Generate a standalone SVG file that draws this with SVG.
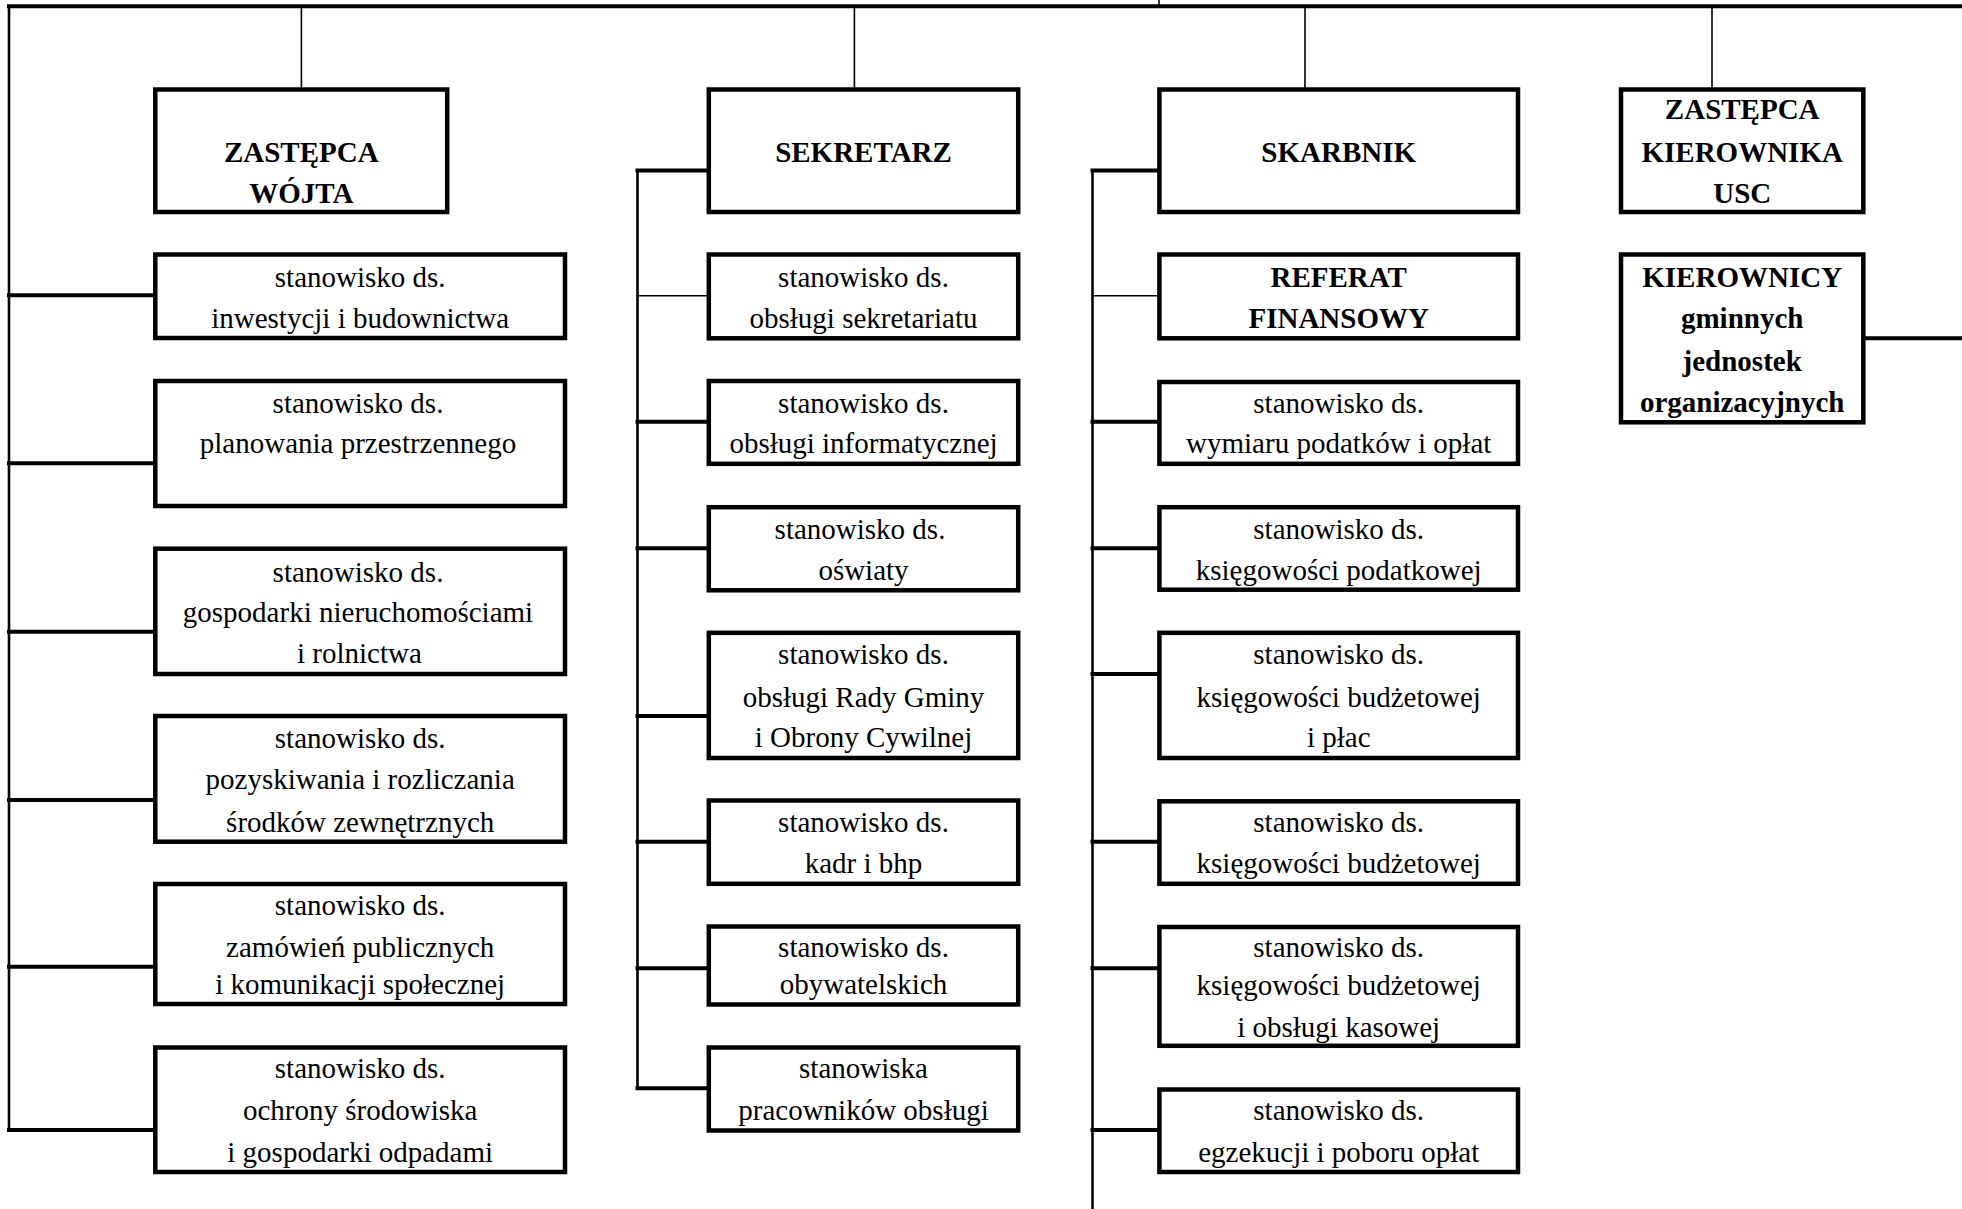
<svg xmlns="http://www.w3.org/2000/svg" width="1962" height="1209" viewBox="0 0 1962 1209">
<style>
.bg{fill:#fff}
.box{fill:#fff;stroke:#000;stroke-width:4.5}
.t{font-family:"Liberation Serif","Times New Roman",serif;font-size:29px;text-anchor:middle;fill:#000}
.b{font-weight:bold}
.c{stroke:#000;fill:none;stroke-linecap:square}
.thick{stroke-width:4}
.thin{stroke-width:1.6}
.trunk{stroke-width:2.6}
</style>
<rect class="bg" x="0" y="0" width="1962" height="1209"/>
<g id="connectors">
  <line class="c thick" x1="9" y1="6.3" x2="1962" y2="6.3"/>
  <line class="c thin" x1="1159" y1="0" x2="1159" y2="6"/>
  <line class="c thin" x1="301.4" y1="6" x2="301.4" y2="88"/>
  <line class="c thin" x1="854.4" y1="6" x2="854.4" y2="88"/>
  <line class="c thin" x1="1305" y1="6" x2="1305" y2="88"/>
  <line class="c thin" x1="1712" y1="6" x2="1712" y2="88"/>
  <line class="c trunk" x1="9" y1="6" x2="9" y2="1130"/>
  <line class="c thick" x1="9" y1="295.3" x2="154" y2="295.3"/>
  <line class="c thick" x1="9" y1="463.3" x2="154" y2="463.3"/>
  <line class="c thick" x1="9" y1="631.7" x2="154" y2="631.7"/>
  <line class="c thick" x1="9" y1="800" x2="154" y2="800"/>
  <line class="c thick" x1="9" y1="966.7" x2="154" y2="966.7"/>
  <line class="c thick" x1="9" y1="1130" x2="154" y2="1130"/>
  <line class="c trunk" x1="637.5" y1="170.5" x2="637.5" y2="1088.3"/>
  <line class="c thick" x1="637.5" y1="170.5" x2="707" y2="170.5"/>
  <line class="c thin" x1="637.5" y1="295.7" x2="707" y2="295.7"/>
  <line class="c thick" x1="637.5" y1="421.7" x2="707" y2="421.7"/>
  <line class="c thick" x1="637.5" y1="548.3" x2="707" y2="548.3"/>
  <line class="c thick" x1="637.5" y1="716" x2="707" y2="716"/>
  <line class="c thick" x1="637.5" y1="841.7" x2="707" y2="841.7"/>
  <line class="c thick" x1="637.5" y1="968.3" x2="707" y2="968.3"/>
  <line class="c thick" x1="637.5" y1="1088.3" x2="707" y2="1088.3"/>
  <line class="c trunk" x1="1092.5" y1="170.5" x2="1092.5" y2="1212"/>
  <line class="c thick" x1="1092.5" y1="170.5" x2="1157.5" y2="170.5"/>
  <line class="c thin" x1="1092.5" y1="295.7" x2="1157.5" y2="295.7"/>
  <line class="c thick" x1="1092.5" y1="421.7" x2="1157.5" y2="421.7"/>
  <line class="c thick" x1="1092.5" y1="548.3" x2="1157.5" y2="548.3"/>
  <line class="c thick" x1="1092.5" y1="674" x2="1157.5" y2="674"/>
  <line class="c thick" x1="1092.5" y1="841.7" x2="1157.5" y2="841.7"/>
  <line class="c thick" x1="1092.5" y1="968.3" x2="1157.5" y2="968.3"/>
  <line class="c thick" x1="1092.5" y1="1130" x2="1157.5" y2="1130"/>
  <line class="c thick" x1="1866" y1="338.3" x2="1964" y2="338.3"/>
</g>
<g id="zastepca-wojta">
  <rect class="box" x="155.3" y="89.5" width="291.9" height="122.5"/>
  <text class="t b" x="301.3" y="161.7">ZASTĘPCA</text>
  <text class="t b" x="301.3" y="203.3">WÓJTA</text>
</g>
<g id="inwestycji">
  <rect class="box" x="155.3" y="254.5" width="409.7" height="83.5"/>
  <text class="t" x="360.2" y="286.7">stanowisko ds.</text>
  <text class="t" x="360.2" y="328.3">inwestycji i budownictwa</text>
</g>
<g id="planowania">
  <rect class="box" x="155.3" y="381" width="409.7" height="125"/>
  <text class="t" x="358" y="412.5">stanowisko ds.</text>
  <text class="t" x="358" y="453.3">planowania przestrzennego</text>
</g>
<g id="gospodarki">
  <rect class="box" x="155.3" y="548.7" width="409.7" height="125.3"/>
  <text class="t" x="358" y="581.7">stanowisko ds.</text>
  <text class="t" x="358" y="621.7">gospodarki nieruchomościami</text>
  <text class="t" x="359.4" y="663.3">i rolnictwa</text>
</g>
<g id="pozyskiwania">
  <rect class="box" x="155.3" y="716" width="409.7" height="125.7"/>
  <text class="t" x="360.2" y="748.3">stanowisko ds.</text>
  <text class="t" x="360.2" y="789.3">pozyskiwania i rozliczania</text>
  <text class="t" x="360.2" y="831.7">środków zewnętrznych</text>
</g>
<g id="zamowien">
  <rect class="box" x="155.3" y="884" width="409.7" height="120"/>
  <text class="t" x="360.2" y="915">stanowisko ds.</text>
  <text class="t" x="360.2" y="957">zamówień publicznych</text>
  <text class="t" x="360.2" y="994">i komunikacji społecznej</text>
</g>
<g id="ochrony">
  <rect class="box" x="155.3" y="1047.5" width="409.7" height="124.5"/>
  <text class="t" x="360.2" y="1078.3">stanowisko ds.</text>
  <text class="t" x="360.2" y="1120">ochrony środowiska</text>
  <text class="t" x="360.2" y="1161.7">i gospodarki odpadami</text>
</g>
<g id="sekretarz">
  <rect class="box" x="708.8" y="89.5" width="309.4" height="122.5"/>
  <text class="t b" x="863.5" y="161.7">SEKRETARZ</text>
</g>
<g id="sekretariatu">
  <rect class="box" x="708.8" y="254.5" width="309.4" height="83.8"/>
  <text class="t" x="863.5" y="286.7">stanowisko ds.</text>
  <text class="t" x="863.5" y="328.3">obsługi sekretariatu</text>
</g>
<g id="informatycznej">
  <rect class="box" x="708.8" y="381" width="309.4" height="82.8"/>
  <text class="t" x="863.5" y="412.5">stanowisko ds.</text>
  <text class="t" x="863.5" y="453.3">obsługi informatycznej</text>
</g>
<g id="oswiaty">
  <rect class="box" x="708.8" y="507.2" width="309.4" height="83.1"/>
  <text class="t" x="860" y="539">stanowisko ds.</text>
  <text class="t" x="863.5" y="580">oświaty</text>
</g>
<g id="rady-gminy">
  <rect class="box" x="708.8" y="632.8" width="309.4" height="125.2"/>
  <text class="t" x="863.5" y="664">stanowisko ds.</text>
  <text class="t" x="863.5" y="706.5">obsługi Rady Gminy</text>
  <text class="t" x="863.5" y="747">i Obrony Cywilnej</text>
</g>
<g id="kadr">
  <rect class="box" x="708.8" y="800.5" width="309.4" height="83.3"/>
  <text class="t" x="863.5" y="831.7">stanowisko ds.</text>
  <text class="t" x="863.5" y="873.3">kadr i bhp</text>
</g>
<g id="obywatelskich">
  <rect class="box" x="708.8" y="926.5" width="309.4" height="78"/>
  <text class="t" x="863.5" y="956.7">stanowisko ds.</text>
  <text class="t" x="863.5" y="994">obywatelskich</text>
</g>
<g id="pracownikow">
  <rect class="box" x="708.8" y="1047.5" width="309.4" height="83"/>
  <text class="t" x="863.5" y="1078.3">stanowiska</text>
  <text class="t" x="863.5" y="1120">pracowników obsługi</text>
</g>
<g id="skarbnik">
  <rect class="box" x="1159.4" y="89.5" width="358.6" height="122.5"/>
  <text class="t b" x="1338.7" y="161.7">SKARBNIK</text>
</g>
<g id="referat-finansowy">
  <rect class="box" x="1159.4" y="254.5" width="358.6" height="83.8"/>
  <text class="t b" x="1338.7" y="286.7">REFERAT</text>
  <text class="t b" x="1338.7" y="328.3">FINANSOWY</text>
</g>
<g id="wymiaru">
  <rect class="box" x="1159.4" y="382" width="358.6" height="81.8"/>
  <text class="t" x="1338.7" y="413">stanowisko ds.</text>
  <text class="t" x="1338.7" y="453.3">wymiaru podatków i opłat</text>
</g>
<g id="ksiegowosci-podatkowej">
  <rect class="box" x="1159.4" y="507.2" width="358.6" height="82.5"/>
  <text class="t" x="1338.7" y="539.3">stanowisko ds.</text>
  <text class="t" x="1338.7" y="580">księgowości podatkowej</text>
</g>
<g id="ksiegowosci-placy">
  <rect class="box" x="1159.4" y="632.8" width="358.6" height="125.2"/>
  <text class="t" x="1338.7" y="664">stanowisko ds.</text>
  <text class="t" x="1338.7" y="706.7">księgowości budżetowej</text>
  <text class="t" x="1338.7" y="747.3">i płac</text>
</g>
<g id="ksiegowosci-budzetowej">
  <rect class="box" x="1159.4" y="801.3" width="358.6" height="82.5"/>
  <text class="t" x="1338.7" y="831.7">stanowisko ds.</text>
  <text class="t" x="1338.7" y="873.3">księgowości budżetowej</text>
</g>
<g id="ksiegowosci-kasowej">
  <rect class="box" x="1159.4" y="927" width="358.6" height="118.8"/>
  <text class="t" x="1338.7" y="957.3">stanowisko ds.</text>
  <text class="t" x="1338.7" y="995">księgowości budżetowej</text>
  <text class="t" x="1338.7" y="1036.7">i obsługi kasowej</text>
</g>
<g id="egzekucji">
  <rect class="box" x="1159.4" y="1089.5" width="358.6" height="82.5"/>
  <text class="t" x="1338.7" y="1120">stanowisko ds.</text>
  <text class="t" x="1338.7" y="1161.7">egzekucji i poboru opłat</text>
</g>
<g id="zastepca-kierownika-usc">
  <rect class="box" x="1621" y="89.5" width="242.3" height="122.5"/>
  <text class="t b" x="1742.2" y="119.3">ZASTĘPCA</text>
  <text class="t b" x="1742.2" y="161.7">KIEROWNIKA</text>
  <text class="t b" x="1742.2" y="203.3">USC</text>
</g>
<g id="kierownicy">
  <rect class="box" x="1621" y="254.5" width="242.3" height="167.8"/>
  <text class="t b" x="1742.2" y="286.7">KIEROWNICY</text>
  <text class="t b" x="1742.2" y="328.3">gminnych</text>
  <text class="t b" x="1742.2" y="370.5">jednostek</text>
  <text class="t b" x="1742.2" y="411.7">organizacyjnych</text>
</g>
</svg>
